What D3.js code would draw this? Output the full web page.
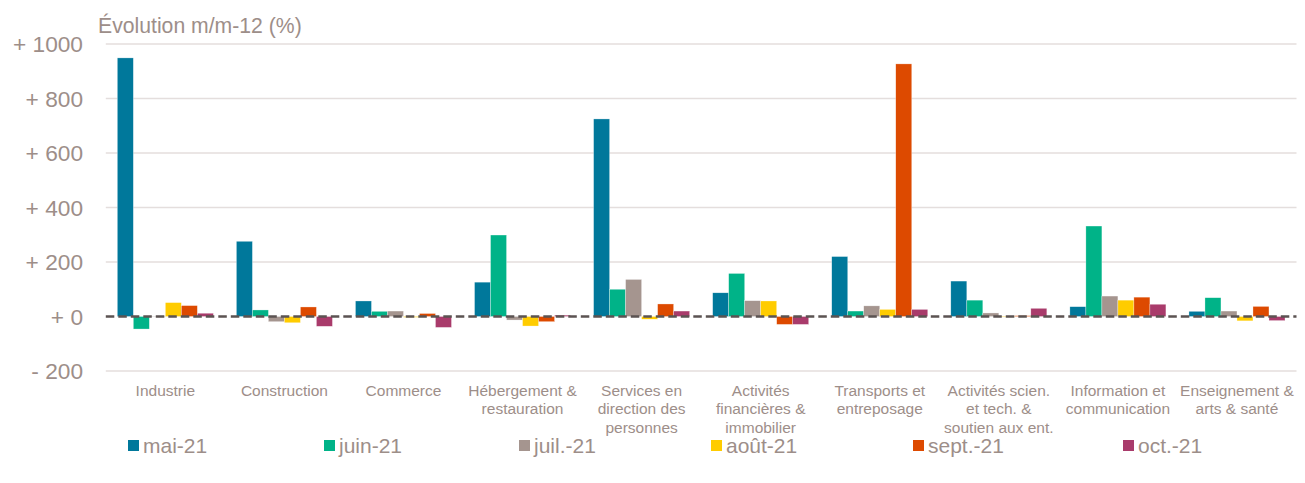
<!DOCTYPE html>
<html><head><meta charset="utf-8">
<script src="https://cdn.jsdelivr.net/npm/d3@7"></script>
<style>body{margin:0;background:#fff}svg{display:block}text{font-family:"Liberation Sans",Arial,sans-serif}</style>
</head><body><svg id="c" width="1305" height="483"></svg>
<script>
const categories = [
  ["Industrie"], ["Construction"], ["Commerce"], ["Hébergement &","restauration"],
  ["Services en","direction des","personnes"], ["Activités","financières &","immobilier"],
  ["Transports et","entreposage"], ["Activités scien.","et tech. &","soutien aux ent."],
  ["Information et","communication"], ["Enseignement &","arts & santé"]
];
const seriesNames = ["mai-21","juin-21","juil.-21","août-21","sept.-21","oct.-21"];
const mai21  = [949, 276, 57, 126, 725, 87, 220, 130, 36, 19];
const juin21 = [-46, 24, 19, 299, 100, 158, 20, 60, 332, 69];
const juil21 = [1, -19, 20, -13, 136, 58, 39, 13, 75, 20];
const aout21 = [51, -23, -3, -35, -10, 57, 26, -2, 60, -16];
const sept21 = [40, 35, 11, -19, 46, -29, 927, 3, 71, 37];
const oct21  = [12, -36, -40, 5, 20, -29, 26, 30, 45, -15];
const series = [mai21, juin21, juil21, aout21, sept21, oct21];
const colors = ["#00789b","#00b388","#a5958f","#ffcc00","#dd4a00","#a93b6b"];
const yTicks = [-200, 0, 200, 400, 600, 800, 1000];
const tickLabels = ["- 200","+ 0","+ 200","+ 400","+ 600","+ 800","+ 1000"];

const svg = d3.select("#c");
const left = 105.8, right = 1296.5;
const y = d3.scaleLinear().domain([-200, 1000]).range([371, 44]);
const x0 = d3.scaleBand().domain(d3.range(categories.length)).range([left, right]).paddingInner(0).paddingOuter(0);
const x1 = d3.scaleBand().domain(d3.range(series.length)).range([0, x0.bandwidth()]).paddingInner(0).paddingOuter(0.72);
const textCol = "#9d8e89";

// gridlines
svg.append("g").selectAll("line").data(yTicks.filter(t => t !== 0)).join("line")
  .attr("x1", left).attr("x2", right).attr("y1", d => y(d)).attr("y2", d => y(d))
  .attr("stroke", "#e4dedd").attr("stroke-width", 1.3);

// y labels
const yAxis = d3.axisLeft(y).tickValues(yTicks).tickSize(0).tickPadding(0).tickFormat((d,i) => tickLabels[i]);
const ga = svg.append("g").attr("transform", "translate(83,0)").call(yAxis);
ga.select(".domain").remove();
ga.selectAll("text").attr("font-size", 22.7).attr("fill", textCol).attr("font-family", '"Liberation Sans",Arial,sans-serif').attr("dy", "0.35em");

// title
svg.append("text").attr("x", 98).attr("y", 33).attr("font-size", 21.2).attr("fill", textCol).text("Évolution m/m-12 (%)");

// bars
series.forEach((s, si) => {
  svg.append("g").selectAll("rect").data(s).join("rect")
    .attr("x", (d, i) => x0(i) + x1(si))
    .attr("width", x1.bandwidth())
    .attr("y", d => y(Math.max(0, d)))
    .attr("height", d => Math.abs(y(d) - y(0)))
    .attr("fill", colors[si])
    .attr("stroke", "#ffffff").attr("stroke-width", 0.5).attr("stroke-opacity", 0.6);
});

// zero line
svg.append("line").attr("x1", left).attr("x2", right).attr("y1", y(0)).attr("y2", y(0))
  .attr("stroke", "#5b5352").attr("stroke-width", 2.5).attr("stroke-dasharray", "8.5,4");

// category labels
categories.forEach((lines, i) => {
  const cx = x0(i) + x0.bandwidth()/2;
  const t = svg.append("text").attr("x", cx).attr("y", 395.5)
    .attr("text-anchor", "middle").attr("font-size", 15.5).attr("fill", textCol);
  lines.forEach((l, j) => t.append("tspan").attr("x", cx).attr("dy", j ? 18.5 : 0).text(l));
});

// legend
const legX = [128, 324, 519, 711, 913, 1123];
seriesNames.forEach((n, i) => {
  svg.append("rect").attr("x", legX[i]).attr("y", 440).attr("width", 11).attr("height", 11).attr("fill", colors[i]);
  svg.append("text").attr("x", legX[i] + 15).attr("y", 453).attr("font-size", 21).attr("fill", textCol).text(n);
});
</script></body></html>
